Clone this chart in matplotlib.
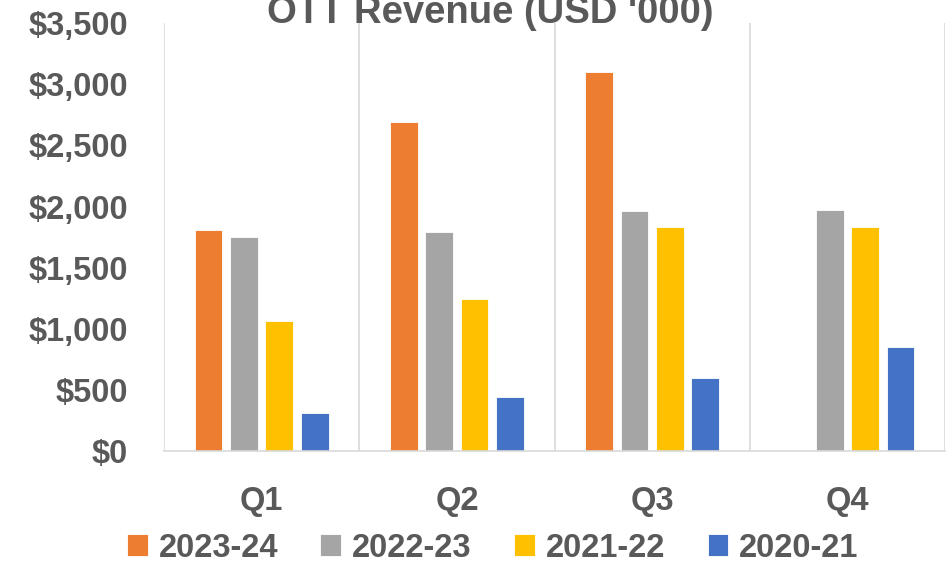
import numpy as np
import matplotlib.pyplot as plt
from matplotlib.ticker import FuncFormatter


# ------------------------------------------------------------
# Data (USD '000)
# ------------------------------------------------------------

quarters = ["Q1", "Q2", "Q3", "Q4"]
years = ["2023-24", "2022-23", "2021-22", "2020-21"]

rev_2023_24 = [1810, 2690, 3100, 0]
rev_2022_23 = [1750, 1790, 1965, 1970]
rev_2021_22 = [1060, 1240, 1830, 1830]
rev_2020_21 = [310, 440, 595, 850]

colors = ["#ED7D31", "#A5A5A5", "#FFC000", "#4472C4"]


# ------------------------------------------------------------
# Plot settings
# ------------------------------------------------------------

plt.rcParams["font.family"] = ["Liberation Sans", "DejaVu Sans"]
text_color = "#595959"
grid_color = "#D9D9D9"

fig = plt.figure(figsize=(9.53, 5.64), dpi=100)
ax = fig.add_axes([0.1721, 0.2004, 0.8195, 0.7583])

series = [rev_2023_24, rev_2022_23, rev_2021_22, rev_2020_21]
x = np.arange(len(quarters))
width = 0.142
step = 0.181

for i, (vals, label, color) in enumerate(zip(series, years, colors)):
    offset = (i - 1.5) * step
    ax.bar(x + offset, vals, width, color=color, label=label,
           edgecolor="white", linewidth=0.6)

ax.set_xlim(-0.5, len(quarters) - 0.5)
ax.set_ylim(0, 3500)
ax.set_yticks(np.arange(0, 3501, 500))
ax.yaxis.set_major_formatter(FuncFormatter(lambda v, p: f"${v:,.0f}"))

ax.set_xticks(x)
ax.set_xticklabels(quarters)

# category separator lines
for b in np.arange(-0.5, len(quarters), 1.0):
    ax.axvline(b, color=grid_color, linewidth=1.2, zorder=0)

for side in ["top", "right", "left"]:
    ax.spines[side].set_visible(False)
ax.spines["bottom"].set_color(grid_color)
ax.spines["bottom"].set_linewidth(1.2)

ax.tick_params(axis="both", length=0, colors=text_color, labelsize=23.5)
ax.tick_params(axis="x", pad=25)
ax.tick_params(axis="y", pad=26)
for lbl in ax.get_xticklabels() + ax.get_yticklabels():
    lbl.set_fontweight("bold")

# title sits partly above the top edge, as in the original
fig.text(0.514, 1 - 23 / 564, "OTT Revenue (USD '000)", ha="center",
         va="baseline", fontsize=27.5, fontweight="bold", color=text_color)

leg = fig.legend(loc="center", bbox_to_anchor=(0.517, 0.028), ncol=4,
                 frameon=False, handlelength=0.64, handleheight=0.64,
                 handletextpad=0.33, columnspacing=1.3,
                 prop={"size": 23.5, "weight": "bold"})
for t in leg.get_texts():
    t.set_color(text_color)

fig.savefig("out.png", dpi=100)
